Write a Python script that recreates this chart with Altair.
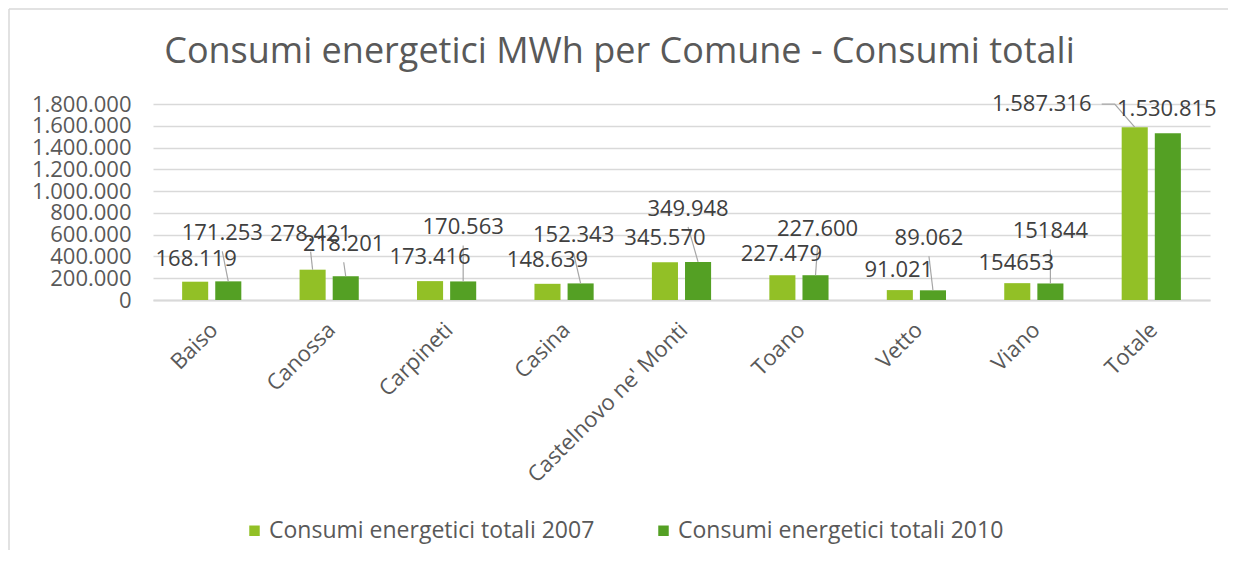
import json
import altair as alt
import pandas as pd

# ---------------- data ----------------
CATEGORIES = ["Baiso", "Canossa", "Carpineti", "Casina", "Castelnovo ne' Monti",
              "Toano", "Vetto", "Viano", "Totale"]
SERIES = ["Consumi energetici totali 2007", "Consumi energetici totali 2010"]
VALUES_2007 = [168119, 278421, 173416, 148639, 345570, 227479, 91021, 154653, 1587316]
VALUES_2010 = [171253, 218201, 170563, 152343, 349948, 227600, 89062, 151844, 1530815]
TEXT_2007 = ["168.119", "278.421", "173.416", "148.639", "345.570", "227.479", "91.021", "154653", "1.587.316"]
TEXT_2010 = ["171.253", "218.201", "170.563", "152.343", "349.948", "227.600", "89.062", "151844", "1.530.815"]
Y_TICKS = [0, 200000, 400000, 600000, 800000, 1000000, 1200000, 1400000, 1600000, 1800000]

# ---------------- layout (label placement in pixels, relative to bar top) ----------------
LABEL_DX_2007 = [1, -2, 0, 0, 0, -1, -1, -1, -93]
LABEL_DY_2007 = [-23, -36, -24, -24, -24, -21, -20, -20, -23]
LABEL_DX_2010 = [-6, -2, 0, -7, -10, 2, -4, 0, -1]
LABEL_DY_2010 = [-48, -32, -54, -48, -53, -46, -52, -52, -24]

PLOT_W, PLOT_H = 1057, 196
Y_MAX = 1800000
N = len(CATEGORIES)
UX = N / PLOT_W          # x data units per pixel
UY = Y_MAX / PLOT_H      # y data units per pixel
BAR_OFF = 0.141          # bar centre offset from category centre (category units)
BAR_HALF = 0.111         # half bar width (category units)

COLORS = ["#92C026", "#54A024"]
TEXT_DARK = "#404040"
TEXT_GREY = "#595959"
GRID = "#D9D9D9"
FONT = "Open Sans"

bar_rows, lab_rows, lead_rows = [], [], []
for s, (vals, txts, dxs, dys) in enumerate([
        (VALUES_2007, TEXT_2007, LABEL_DX_2007, LABEL_DY_2007),
        (VALUES_2010, TEXT_2010, LABEL_DX_2010, LABEL_DY_2010)]):
    off = -BAR_OFF if s == 0 else BAR_OFF
    for i, cat in enumerate(CATEGORIES):
        xc = i + 0.5 + off
        v = vals[i]
        bar_rows.append({"serie": SERIES[s], "cat": cat, "x0": xc - BAR_HALF,
                         "x1": xc + BAR_HALF, "v": v, "base": 0})
        lx = xc + dxs[i] * UX
        ly = v - dys[i] * UY
        lab_rows.append({"x": lx, "y": ly, "t": txts[i]})
        lid = f"{s}-{i}"
        if abs(dxs[i]) > 20:
            pts = [(lx + 60 * UX, ly), (lx + 73 * UX, ly), (xc, v)]
        elif abs(dys[i]) > 30:
            pts = [(lx, ly - 18 * UY), (xc, v)]
        else:
            pts = []
        for k, (px, py) in enumerate(pts):
            lead_rows.append({"id": lid, "k": k, "x": px, "y": py})

bars_df = pd.DataFrame(bar_rows)
labels_df = pd.DataFrame(lab_rows)
leads_df = pd.DataFrame(lead_rows)

x_scale = alt.Scale(domain=[0, N], nice=False, zero=False)
y_scale = alt.Scale(domain=[0, Y_MAX], nice=False)

x_axis = alt.Axis(
    values=[i + 0.5 for i in range(N)],
    labelExpr=json.dumps(CATEGORIES) + "[floor(datum.value)]",
    labelAngle=-45, labelAlign="right", labelBaseline="middle",
    labelPadding=26, labelOffset=2, labelFontSize=22, labelFont=FONT,
    labelColor=TEXT_GREY, ticks=False, tickSize=0, grid=False,
    domainColor=GRID, domainWidth=2, title=None, labelOverlap=False,
    labelLimit=500,
)
y_axis = alt.Axis(
    values=Y_TICKS,
    labelExpr="replace(replace(format(datum.value, ','), ',', '.'), ',', '.')",
    labelFontSize=22, labelFont=FONT, labelColor=TEXT_GREY, labelPadding=22,
    ticks=False, tickSize=0, domain=False, grid=True, gridColor=GRID, gridWidth=1.5,
    title=None, labelBaseline="middle", labelOverlap=False,
)

bars = alt.Chart(bars_df).mark_bar().encode(
    x=alt.X("x0:Q", scale=x_scale, axis=x_axis),
    x2="x1:Q",
    y=alt.Y("v:Q", scale=y_scale, axis=y_axis),
    y2="base:Q",
    color=alt.Color("serie:N", scale=alt.Scale(domain=SERIES, range=COLORS),
                    legend=alt.Legend(
                        orient="none", legendX=90, legendY=415, direction="horizontal",
                        title=None, symbolType="square", symbolSize=110,
                        symbolStrokeWidth=0, labelFontSize=23, labelFont=FONT,
                        labelColor=TEXT_GREY, columnPadding=57, labelOffset=3,
                        labelLimit=600)),
)

leaders = alt.Chart(leads_df).mark_line(color="#A6A6A6", strokeWidth=1.2).encode(
    x=alt.X("x:Q", scale=x_scale, axis=x_axis),
    y=alt.Y("y:Q", scale=y_scale, axis=y_axis),
    detail="id:N",
    order="k:Q",
)

labels = alt.Chart(labels_df).mark_text(
    font=FONT, fontSize=22, color=TEXT_DARK, align="center", baseline="middle"
).encode(
    x=alt.X("x:Q", scale=x_scale, axis=x_axis),
    y=alt.Y("y:Q", scale=y_scale, axis=y_axis),
    text="t:N",
)

frame = alt.Chart(pd.DataFrame({"a": [0]})).mark_rule(color=GRID, strokeWidth=1.5).encode(
    x=alt.value(-144), y=alt.value(-95), y2=alt.value(460)
)
frame_top = alt.Chart(pd.DataFrame({"a": [0]})).mark_rule(color=GRID, strokeWidth=1.5).encode(
    x=alt.value(-144), x2=alt.value(1100), y=alt.value(-95)
)

chart = alt.layer(bars, frame, frame_top, leaders, labels).properties(
    width=PLOT_W, height=PLOT_H,
    padding={"left": 145, "top": 96, "right": 18, "bottom": 250},
    autosize=alt.AutoSizeParams(type="none"),
    background="white",
    title=alt.TitleParams(
        "Consumi energetici MWh per Comune - Consumi totali",
        font=FONT, fontSize=36, fontWeight="normal", color=TEXT_GREY,
        anchor="middle", dx=-62, offset=-63,
    ),
).configure_view(stroke=None)

chart.save("out.html", embed_options={"renderer": "svg", "actions": False})
